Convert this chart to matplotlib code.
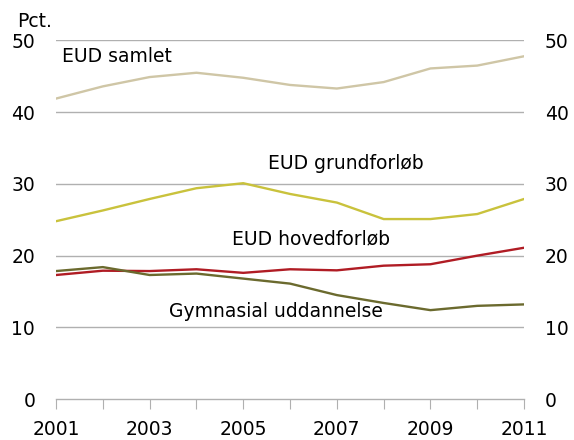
import matplotlib
matplotlib.use("Agg")
import matplotlib.pyplot as plt

# Data
years = list(range(2001, 2012))
eud_samlet = [41.9, 43.6, 44.9, 45.5, 44.8, 43.8, 43.3, 44.2, 46.1, 46.5, 47.8]
eud_grund = [24.8, 26.3, 27.9, 29.4, 30.1, 28.6, 27.4, 25.1, 25.1, 25.8, 27.9]
eud_hoved = [17.3, 17.9, 17.85, 18.1, 17.6, 18.1, 17.95, 18.6, 18.8, 20.0, 21.1]
gymnasial = [17.85, 18.4, 17.3, 17.5, 16.8, 16.1, 14.5, 13.4, 12.4, 13.0, 13.2]

xticks = [2001, 2003, 2005, 2007, 2009, 2011]
yticks = [0, 10, 20, 30, 40, 50]

plt.rcParams["font.family"] = "DejaVu Sans"

fig = plt.figure(figsize=(5.74, 4.40), dpi=100)
ax = fig.add_axes([0.0976, 0.093, 0.8154, 0.815])

# Lines
ax.plot(years, eud_samlet, color="#cfc6a6", lw=1.7)
ax.plot(years, eud_grund, color="#c9c23c", lw=1.7)
ax.plot(years, eud_hoved, color="#b01c24", lw=1.7)
ax.plot(years, gymnasial, color="#6b6a2e", lw=1.7)

# Line labels
fs = 13.5
ax.text(2001.13, 47.7, "EUD samlet", fontsize=fs, va="center", ha="left")
ax.text(2005.53, 32.9, "EUD grundforløb", fontsize=fs, va="center", ha="left")
ax.text(2004.76, 22.3, "EUD hovedforløb", fontsize=fs, va="center", ha="left")
ax.text(2003.42, 12.2, "Gymnasial uddannelse", fontsize=fs, va="center", ha="left")

ax.set_xlim(2001, 2011)
ax.set_ylim(0, 50)

# Grid lines
for y in yticks[1:]:
    ax.axhline(y, color="#b0b0b0", lw=1, zorder=0)

for s in ["top", "left", "right"]:
    ax.spines[s].set_visible(False)
ax.spines["bottom"].set_color("#b0b0b0")
ax.spines["bottom"].set_linewidth(1)

ax.set_xticks(years)
ax.set_xticklabels([str(y) if y in xticks else "" for y in years], fontsize=fs)
ax.tick_params(axis="x", direction="out", length=7, color="#b0b0b0", pad=8)

ax.set_yticks(yticks)
ax.set_yticklabels([str(y) for y in yticks], fontsize=fs)
ax.tick_params(axis="y", length=0, pad=15, labelleft=True, labelright=True)

fig.text(0.03, 0.952, "Pct.", fontsize=fs, va="center", ha="left")

fig.savefig("out.png", dpi=100)
